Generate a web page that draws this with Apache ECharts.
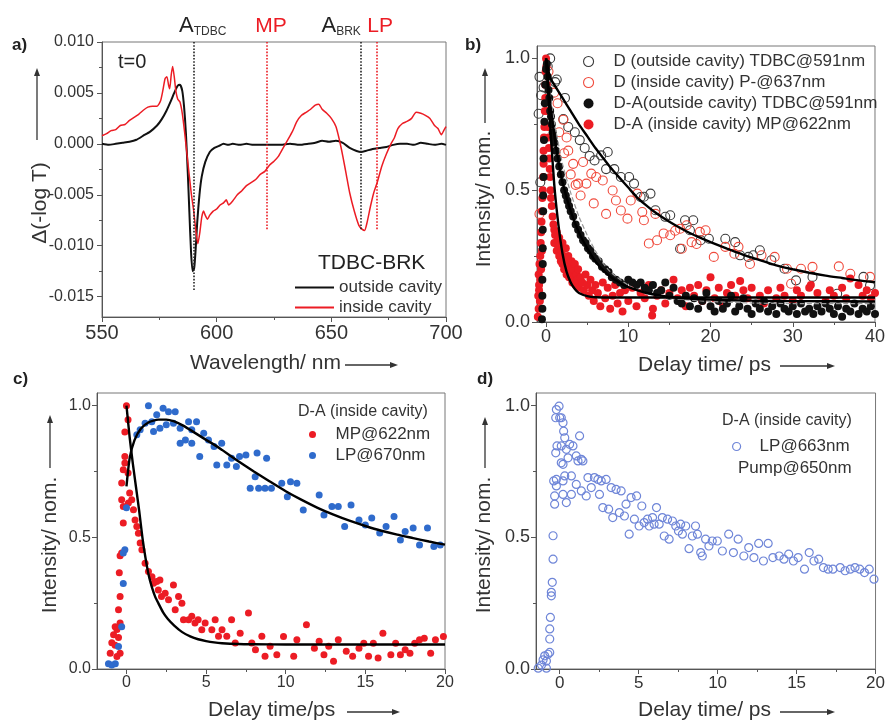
<!DOCTYPE html>
<html><head><meta charset="utf-8">
<script src="https://cdn.jsdelivr.net/npm/echarts@6/dist/echarts.min.js"></script>
<style>html,body{margin:0;padding:0;background:#fff}#c{width:888px;height:720px}</style>
</head><body><div id="c"></div><script>
// ---------- Panel a data: wavelength (nm), Δ(-log T) ----------
const outsideCavity = [[550,0.0000],[553,-0.0001],[556,0.0000],[559,0.0001],[562,0.0002],[565,0.0004],[568,0.0008],[571,0.0012],[574,0.0018],[576,0.0024],[578,0.0032],[580,0.0042],[581.5,0.0050],[583,0.0057],[584,0.0058],[585,0.0052],[585.8,0.0036],[586.6,0.0010],[587.4,-0.0028],[588.1,-0.0067],[588.8,-0.0105],[589.5,-0.0125],[590.2,-0.0122],[590.8,-0.0105],[591.5,-0.0078],[592.5,-0.0050],[593.5,-0.0032],[595,-0.0018],[597,-0.0008],[599,-0.0004],[601,-0.0002],[603,0.0000],[605,-0.0001],[607,0.0000],[610,-0.0001],[613,0.0000],[616,-0.0001],[620,-0.0001],[624,-0.0001],[628,-0.0001],[632,0.0000],[636,-0.0001],[640,0.0000],[643,0.0001],[646,0.0003],[649,0.0002],[652,0.0003],[655,0.0001],[658,-0.0004],[661,-0.0007],[663,-0.0008],[665,-0.0007],[668,-0.0005],[671,-0.0004],[674,-0.0003],[677,-0.0001],[680,0.0000],[683,0.0000],[686,-0.0001],[689,0.0001],[692,0.0000],[695,-0.0001],[698,0.0000],[700,-0.0001]];
const insideCavity = [[550,0.0008],[552,0.0010],[554,0.0013],[556,0.0014],[558,0.0018],[560,0.0019],[562,0.0023],[564,0.0026],[566,0.0029],[568,0.0033],[570,0.0036],[572,0.0037],[574,0.0037],[575.5,0.0042],[576.5,0.0052],[577.5,0.0064],[578.3,0.0066],[579,0.0058],[579.5,0.0054],[580.2,0.0068],[580.8,0.0076],[581.5,0.0066],[582.2,0.0052],[583,0.0044],[584,0.0041],[585,0.0030],[586,0.0012],[587,-0.0009],[588,-0.0030],[589,-0.0050],[590,-0.0066],[591,-0.0087],[591.8,-0.0098],[592.6,-0.0088],[593.5,-0.0072],[594.3,-0.0066],[595,-0.0070],[596,-0.0074],[597,-0.0070],[598.5,-0.0066],[600,-0.0064],[601.5,-0.0060],[603,-0.0058],[604.2,-0.0055],[605.2,-0.0060],[607,-0.0056],[609,-0.0050],[611,-0.0046],[613,-0.0041],[615,-0.0038],[617,-0.0035],[619,-0.0030],[621,-0.0027],[623,-0.0021],[625,-0.0017],[627,-0.0012],[629,-0.0004],[631,0.0004],[633,0.0012],[635,0.0022],[637,0.0028],[639,0.0031],[641,0.0034],[643,0.0038],[644.5,0.0039],[646,0.0034],[648,0.0030],[650,0.0025],[652,0.0017],[653.5,0.0004],[655,-0.0012],[656.5,-0.0030],[658,-0.0048],[660,-0.0066],[662,-0.0080],[663.5,-0.0084],[664.5,-0.0085],[665.5,-0.0078],[667,-0.0062],[668.5,-0.0048],[670,-0.0038],[672,-0.0022],[674,-0.0010],[676,0.0000],[677.5,0.0006],[679,0.0015],[681,0.0020],[683,0.0022],[685,0.0025],[687,0.0031],[689,0.0030],[691,0.0028],[693,0.0025],[695,0.0018],[696.5,0.0015],[698,0.0009],[699,0.0013],[700,0.0017]];
const markerWavelengths = [590, 622, 663, 670];
const markerBottoms = [-0.0145, -0.0084, -0.0085, -0.0085];
const markerLabels = ['{a|A}{s|TDBC}', '{r|MP}', '{a|A}{s|BRK}', '{r|LP}'];
const aXTicks = [550, 600, 650, 700];
const aXMinor = [575, 625, 675];
const aYTicks = [-0.015, -0.010, -0.005, 0, 0.005, 0.010];
const aYMinor = [-0.0125, -0.0075, -0.0025, 0.0025, 0.0075];

// ---------- Panel b data: delay (ps), intensity ----------
const dOutside = [[-0.9,0.79],[-0.8,0.93],[-0.7,0.53],[-0.6,0.86],[-0.3,0.89],[0.2,0.97],[0.5,1.0],[1.1,0.91],[1.3,0.92],[2.1,0.77],[2.3,0.85],[2.7,0.74],[3.5,0.72],[4.1,0.69],[4.7,0.66],[5.3,0.63],[5.9,0.613],[6.7,0.632],[7.3,0.58],[7.5,0.645],[8.3,0.58],[9.1,0.55],[10.1,0.55],[10.7,0.525],[11.5,0.474],[11.9,0.475],[12.7,0.487],[13.3,0.424],[14.5,0.399],[15.1,0.405],[16.3,0.278],[16.9,0.386],[17.5,0.348],[17.9,0.386],[18.8,0.31],[19.8,0.316],[21.8,0.316],[23.0,0.303],[23.6,0.253],[24.6,0.247],[25.2,0.253],[26.0,0.272],[27.4,0.234],[29.0,0.202],[30.4,0.158],[32.4,0.171],[35.4,0.107],[38.6,0.171],[39.4,0.139]];
const dInside = [[-0.8,0.41],[0.3,0.95],[0.98,0.87],[1.4,0.83],[1.6,0.72],[2.1,0.767],[2.2,0.64],[2.5,0.70],[2.7,0.65],[3.0,0.56],[3.3,0.6],[3.6,0.52],[3.9,0.525],[4.2,0.48],[4.5,0.607],[4.9,0.525],[5.5,0.563],[5.8,0.45],[6.1,0.55],[6.9,0.537],[7.3,0.41],[8.1,0.499],[8.5,0.461],[9.1,0.423],[9.9,0.392],[10.3,0.461],[11.1,0.487],[11.7,0.417],[11.9,0.386],[12.5,0.298],[13.3,0.41],[13.5,0.31],[14.3,0.336],[15.1,0.329],[15.7,0.346],[16.3,0.354],[16.5,0.278],[17.1,0.367],[17.7,0.303],[18.3,0.296],[18.7,0.342],[19.4,0.348],[20.4,0.247],[21.8,0.285],[22.9,0.259],[23.4,0.285],[24.8,0.22],[26.2,0.253],[27.8,0.247],[29.3,0.202],[29.8,0.145],[31.0,0.202],[32.4,0.209],[35.6,0.211],[37.0,0.183],[39.4,0.171]];
const daOutside = [[-0.5,0.01],[-0.45,0.05],[-0.45,0.1],[-0.45,0.16],[-0.4,0.22],[-0.4,0.28],[-0.4,0.35],[-0.35,0.42],[-0.35,0.48],[-0.3,0.55],[-0.3,0.62],[-0.25,0.69],[-0.2,0.76],[-0.15,0.83],[-0.1,0.9],[0,0.96],[0.1,0.98],[0.2,0.93],[0.3,0.88],[0.4,0.85],[0.5,0.8],[0.6,0.78],[0.7,0.75],[0.8,0.72],[0.9,0.7],[1.0,0.68],[1.2,0.65],[1.4,0.62],[1.6,0.59],[1.8,0.56],[2.0,0.53],[2.2,0.5],[2.4,0.48],[2.6,0.46],[2.8,0.44],[3.0,0.42],[3.3,0.4],[3.6,0.37],[3.9,0.35],[4.2,0.33],[4.5,0.31],[4.8,0.3],[5.1,0.28],[5.4,0.27],[5.7,0.25],[6.0,0.24],[6.4,0.23],[6.8,0.21],[7.2,0.2],[7.6,0.19],[8.0,0.17],[8.5,0.16],[9.0,0.15],[9.5,0.14],[10,0.16],[10.5,0.15],[11,0.14],[11.5,0.15],[12,0.13],[12.5,0.12],[13,0.14],[13.5,0.11],[14,0.12],[14.5,0.15],[15,0.1],[15.5,0.13],[16,0.08],[16.5,0.07],[17,0.1],[17.5,0.06],[18,0.09],[18.5,0.05],[19,0.08],[19.5,0.11],[20,0.06],[20.5,0.04],[21,0.08],[21.5,0.05],[22,0.07],[22.5,0.1],[23,0.04],[23.5,0.06],[24,0.09],[24.5,0.05],[25,0.03],[25.5,0.07],[26,0.05],[26.5,0.08],[27,0.04],[27.5,0.06],[28,0.03],[28.5,0.07],[29,0.05],[29.5,0.04],[30,0.06],[30.5,0.03],[31,0.07],[31.5,0.04],[32,0.05],[32.5,0.03],[33,0.06],[33.5,0.04],[34,0.07],[34.5,0.05],[35,0.03],[35.5,0.06],[36,0.02],[36.5,0.05],[37,0.04],[37.5,0.07],[38,0.03],[38.5,0.05],[39,0.04],[39.5,0.06],[40,0.03]];
const daInside = [[-1.0,0.02],[-0.9,0.05],[-0.95,0.1],[-0.85,0.14],[-0.9,0.18],[-0.8,0.22],[-0.85,0.12],[-0.75,0.08],[-0.7,0.16],[-0.7,0.25],[-0.65,0.3],[-0.6,0.34],[-0.6,0.2],[-0.55,0.38],[-0.5,0.42],[-0.5,0.27],[-0.45,0.47],[-0.4,0.5],[-0.35,0.55],[-0.3,0.6],[-0.3,0.65],[-0.25,0.7],[-0.2,0.74],[-0.15,0.8],[-0.1,0.85],[-0.1,0.9],[-0.05,0.95],[0,1.0],[0.05,0.97],[0.1,0.9],[0.15,0.85],[0.2,0.8],[0.25,0.74],[0.3,0.7],[0.35,0.66],[0.4,0.62],[0.45,0.58],[0.5,0.55],[0.55,0.5],[0.6,0.47],[0.7,0.44],[0.8,0.4],[0.9,0.37],[1.0,0.35],[1.0,0.3],[1.1,0.33],[1.2,0.3],[1.3,0.34],[1.3,0.27],[1.4,0.31],[1.5,0.28],[1.6,0.25],[1.6,0.32],[1.7,0.29],[1.8,0.23],[1.9,0.27],[2.0,0.3],[2.0,0.22],[2.1,0.25],[2.2,0.2],[2.3,0.24],[2.4,0.28],[2.5,0.18],[2.6,0.22],[2.7,0.25],[2.8,0.17],[2.9,0.21],[3.0,0.19],[3.1,0.23],[3.2,0.15],[3.3,0.2],[3.4,0.17],[3.5,0.22],[3.6,0.14],[3.7,0.18],[3.8,0.16],[3.9,0.2],[4.0,0.13],[4.2,0.17],[4.4,0.15],[4.6,0.12],[4.8,0.18],[5.0,0.14],[5.2,0.1],[5.4,0.16],[5.6,0.12],[5.8,0.08],[6.0,0.14],[6.3,0.11],[6.6,0.06],[6.9,0.15],[7.2,0.09],[7.5,0.13],[7.8,0.05],[8.1,0.1],[8.4,0.14],[8.7,0.07],[9.0,0.11],[9.3,0.04],[9.6,0.12],[10,0.08],[10.5,0.13],[11,0.06],[11.5,0.11],[12,0.09],[12.5,0.14],[12.9,0.025],[13,0.05],[13.5,0.1],[14,0.12],[14.5,0.07],[15,0.11],[15.5,0.16],[16,0.09],[16.5,0.12],[17,0.06],[17.5,0.13],[18,0.1],[18.5,0.14],[19,0.08],[19.5,0.12],[20,0.17],[20.5,0.09],[21,0.13],[21.5,0.07],[22,0.11],[22.5,0.14],[23,0.1],[23.6,0.156],[24,0.12],[24.5,0.09],[25,0.13],[26,0.1],[26.5,0.07],[27,0.12],[28,0.09],[28.5,0.13],[29,0.1],[30,0.08],[30.5,0.12],[31,0.1],[32,0.13],[32.2,0.14],[33,0.11],[34,0.08],[34.5,0.12],[35,0.1],[36,0.13],[36.5,0.09],[37,0.165],[38,0.14],[38.5,0.1],[39,0.12],[39.5,0.09],[40,0.11]];
const dOutFit = [[0,1.0],[0.3,0.95],[0.6,0.92],[1,0.9],[2,0.85],[3,0.8],[4,0.75],[5,0.705],[6,0.66],[7,0.62],[8,0.58],[9,0.545],[10,0.51],[11,0.475],[12,0.447],[13,0.422],[14,0.4],[15,0.38],[16,0.362],[17,0.345],[18,0.33],[19,0.316],[20,0.303],[22,0.278],[24,0.255],[26,0.235],[28,0.215],[30,0.2],[32,0.187],[34,0.176],[36,0.167],[38,0.158],[40,0.151]];
const daOutFit = [[0,1.0],[0.5,0.83],[1,0.71],[1.5,0.61],[2,0.53],[3,0.42],[4,0.34],[5,0.28],[6,0.23],[7,0.195],[8,0.168],[9,0.148],[10,0.132],[12,0.112],[14,0.1],[16,0.092],[20,0.085],[25,0.081],[30,0.079],[40,0.078]];
const daInFit = [[0,1.0],[0.3,0.85],[0.6,0.7],[1.0,0.52],[1.5,0.37],[2.0,0.26],[2.5,0.19],[3.0,0.15],[3.5,0.125],[4.0,0.11],[5.0,0.098],[6,0.094],[10,0.093],[20,0.093],[40,0.093]];
const grayFit = [[0.3,0.9],[1,0.76],[2,0.6],[3,0.49],[4,0.4],[5,0.33],[6,0.27],[7,0.22],[8,0.185],[10,0.14],[12,0.11],[15,0.09],[20,0.078],[25,0.072],[30,0.07],[40,0.07]];
const bXTicks = [0, 10, 20, 30, 40];
const bXMinor = [5, 15, 25, 35];
const yTicks01 = [0, 0.5, 1.0];
const yMinor01 = [0.25, 0.75];

// ---------- Panel c data ----------
const mp622 = [[-1.02,0.06],[-0.92,0.1],[-0.81,0.13],[-0.71,0.16],[-0.6,0.15],[-0.5,0.12],[-0.71,0.09],[-0.4,0.06],[-0.6,0.047],[-0.4,0.175],[-0.5,0.225],[-0.4,0.275],[-0.45,0.365],[-0.4,0.43],[-0.3,0.44],[-0.2,0.554],[-0.2,0.617],[-0.3,0.643],[-0.3,0.706],[-0.2,0.757],[-0.1,0.782],[-0.1,0.807],[-0.1,0.9],[0,1.0],[0.1,0.946],[0.1,0.744],[0.2,0.668],[0.33,0.643],[0.12,0.63],[0.44,0.605],[0.54,0.566],[0.65,0.541],[0.75,0.515],[0.86,0.478],[0.97,0.453],[1.17,0.402],[1.38,0.37],[1.6,0.35],[1.7,0.326],[1.9,0.332],[2.0,0.3],[2.1,0.338],[2.2,0.275],[2.43,0.288],[2.64,0.263],[2.95,0.319],[3.27,0.275],[3.48,0.25],[3.06,0.225],[3.58,0.187],[3.9,0.187],[4.1,0.2],[4.3,0.175],[4.5,0.187],[4.73,0.149],[4.94,0.175],[5.36,0.149],[5.57,0.187],[5.78,0.124],[6.0,0.149],[6.3,0.124],[6.6,0.187],[6.83,0.099],[7.14,0.136],[7.66,0.213],[7.87,0.099],[8.1,0.073],[8.5,0.124],[8.7,0.048],[9.02,0.086],[9.44,0.054],[9.86,0.123],[10.5,0.048],[10.7,0.111],[11.3,0.168],[11.8,0.079],[12.1,0.105],[12.4,0.054],[12.7,0.086],[13.0,0.029],[13.3,0.111],[13.8,0.067],[14.2,0.048],[14.6,0.079],[14.9,0.098],[15.2,0.048],[15.5,0.098],[15.8,0.042],[16.1,0.136],[16.6,0.054],[16.9,0.098],[17.2,0.054],[17.5,0.073],[17.8,0.06],[18.1,0.098],[18.4,0.111],[18.7,0.117],[19.1,0.06],[19.4,0.111],[19.9,0.123]];
const lp670 = [[-1.13,0.02],[-0.92,0.015],[-0.7,0.02],[-0.5,0.085],[-0.3,0.16],[-0.2,0.325],[-0.2,0.44],[-0.1,0.453],[0,0.612],[0.65,0.889],[0.86,0.908],[1.17,0.933],[1.38,1.0],[1.59,0.939],[1.7,0.902],[1.9,0.965],[2.1,0.914],[2.3,0.99],[2.5,0.927],[2.64,0.977],[2.95,0.933],[3.06,0.977],[3.37,0.914],[3.37,0.857],[3.7,0.87],[3.9,0.939],[4.1,0.908],[4.4,0.939],[4.1,0.857],[4.6,0.807],[4.85,0.895],[5.15,0.87],[5.5,0.845],[5.67,0.775],[5.98,0.857],[6.3,0.775],[6.6,0.8],[6.9,0.769],[7.1,0.807],[7.5,0.813],[7.77,0.686],[8.08,0.73],[8.3,0.686],[8.7,0.686],[8.2,0.82],[8.8,0.8],[9.1,0.686],[9.75,0.705],[10.1,0.654],[10.3,0.711],[10.7,0.705],[11.1,0.604],[12.1,0.661],[12.4,0.585],[12.9,0.617],[13.3,0.617],[13.7,0.541],[14.1,0.623],[14.6,0.566],[15.0,0.547],[15.4,0.573],[15.9,0.516],[16.3,0.541],[16.8,0.579],[17.2,0.49],[17.5,0.522],[18.0,0.535],[18.4,0.471],[18.9,0.535],[19.3,0.465],[19.7,0.471]];
const mpFit = [[0,1.0],[0.2,0.88],[0.4,0.78],[0.6,0.69],[0.8,0.6],[1.0,0.5],[1.2,0.42],[1.4,0.355],[1.6,0.31],[1.8,0.275],[2.0,0.25],[2.3,0.215],[2.6,0.19],[3.0,0.165],[3.5,0.14],[4.0,0.124],[4.5,0.113],[5,0.106],[5.5,0.101],[6,0.098],[7,0.095],[8,0.094],[10,0.093],[14,0.093],[20,0.093]];
const lpFit = [[0,0.693],[0.2,0.8],[0.5,0.868],[0.9,0.912],[1.4,0.937],[2.0,0.947],[2.5,0.947],[3.0,0.94],[3.5,0.926],[4.0,0.908],[4.5,0.889],[5.0,0.87],[5.5,0.852],[6,0.832],[7,0.79],[8,0.75],[9,0.712],[10,0.675],[11,0.642],[12,0.612],[13,0.586],[14,0.563],[15,0.543],[16,0.525],[17,0.51],[18,0.497],[19,0.484],[20,0.472]];
const cdXTicks = [0, 5, 10, 15, 20];
const cdXMinor = [2.5, 7.5, 12.5, 17.5];

// ---------- Panel d data ----------
const lp663 = [[-1.36,0.003],[-1.15,0.015],[-1.05,0.035],[-0.95,0.05],[-0.84,0.03],[-0.74,0.056],[-0.84,0.003],[-0.63,0.063],[-0.63,0.114],[-0.63,0.152],[-0.59,0.196],[-0.53,0.278],[-0.53,0.291],[-0.47,0.329],[-0.42,0.417],[-0.42,0.506],[-0.32,0.626],[-0.32,0.657],[-0.38,0.714],[-0.21,0.72],[-0.21,0.695],[-0.25,0.821],[-0.17,0.847],[-0.25,0.954],[-0.21,0.985],[-0.04,0.998],[0,0.954],[0.1,0.954],[0.21,0.935],[0.25,0.903],[0.32,0.878],[0.1,0.847],[0.1,0.783],[0.21,0.777],[0.21,0.714],[0.21,0.663],[0.42,0.632],[0.32,0.733],[0.53,0.802],[0.63,0.853],[0.84,0.847],[0.42,0.834],[1.05,0.809],[1.16,0.79],[1.26,0.885],[1.37,0.796],[1.47,0.79],[0.74,0.733],[1.05,0.701],[0.74,0.663],[1.37,0.676],[1.68,0.657],[1.79,0.727],[2.0,0.689],[2.2,0.727],[2.42,0.72],[2.52,0.663],[2.63,0.714],[2.73,0.613],[2.94,0.72],[3.1,0.607],[3.26,0.689],[3.36,0.575],[3.57,0.682],[3.78,0.594],[3.89,0.676],[4.1,0.581],[4.2,0.626],[4.4,0.512],[4.52,0.651],[4.73,0.569],[4.87,0.657],[5.03,0.543],[5.2,0.619],[5.35,0.556],[5.56,0.569],[5.67,0.543],[5.88,0.575],[5.98,0.55],[6.13,0.613],[6.3,0.55],[6.5,0.575],[6.62,0.505],[6.83,0.569],[6.93,0.493],[7.14,0.562],[7.35,0.543],[7.52,0.524],[7.66,0.55],[7.77,0.512],[7.98,0.543],[8.19,0.457],[8.4,0.505],[8.6,0.543],[8.72,0.512],[8.93,0.442],[9.03,0.429],[9.24,0.493],[9.45,0.467],[9.66,0.486],[9.98,0.486],[10.3,0.448],[10.7,0.512],[11.0,0.442],[11.3,0.493],[11.66,0.429],[11.97,0.461],[12.3,0.423],[12.6,0.477],[12.9,0.41],[13.2,0.477],[13.5,0.423],[13.9,0.429],[14.2,0.417],[14.5,0.436],[14.8,0.41],[15.1,0.423],[15.5,0.379],[15.8,0.442],[16.1,0.41],[16.4,0.417],[16.7,0.385],[17.0,0.379],[17.3,0.379],[17.76,0.385],[18.07,0.373],[18.4,0.379],[18.7,0.385],[19.0,0.379],[19.3,0.366],[19.6,0.379],[19.9,0.341]];

// ---------- Build ----------
const FONT = '"Liberation Sans", Arial, sans-serif';
const AX = '#555';
const RED = '#ec1c24';
function axisPair(kind, g, min, max, major, minor, fmt, fs, margin) {
  const pos = kind === 'x' ? 'bottom' : 'left';
  return [
    {type:'value', gridIndex:g, min:min, max:max, position:pos,
     axisLine:{show:true, onZero:false, lineStyle:{color:AX, width:1}},
     axisTick:{show:true, customValues:major, length:5, lineStyle:{color:AX, width:1}},
     axisLabel:{show:true, customValues:major, formatter:fmt, fontSize:fs, color:'#333', fontFamily:FONT, margin:margin},
     splitLine:{show:false}},
    {type:'value', gridIndex:g, min:min, max:max, position:pos,
     axisLine:{show:false, onZero:false},
     axisTick:{show:true, customValues:minor, length:3, lineStyle:{color:AX, width:1}},
     axisLabel:{show:false}, splitLine:{show:false}}
  ];
}
const f1 = v => v.toFixed(1);
const f0 = v => String(v);
const f3 = v => v.toFixed(3);
const xAxis = [].concat(
  axisPair('x', 0, 550, 700, aXTicks, aXMinor, f0, 20, 6),
  axisPair('x', 1, -1.1, 40, bXTicks, bXMinor, f0, 18, 6),
  axisPair('x', 2, -1.85, 20, cdXTicks, cdXMinor, f0, 16, 6),
  axisPair('x', 3, -1.5, 20, cdXTicks, cdXMinor, f0, 17, 6)
);
const yAxis = [].concat(
  axisPair('y', 0, -0.017, 0.010, aYTicks, aYMinor, f3, 16, 8),
  axisPair('y', 1, 0, 1.047, yTicks01, yMinor01, f1, 18, 7),
  axisPair('y', 2, 0, 1.048, yTicks01, yMinor01, f1, 16, 6),
  axisPair('y', 3, 0, 1.048, yTicks01, yMinor01, f1, 18, 6)
);
const gridStyle = {show:true, borderColor:'#777', borderWidth:1, backgroundColor:'transparent'};
const grid = [
  Object.assign({left:102, top:42, width:344, height:275}, gridStyle),
  Object.assign({left:537, top:46, width:341, height:276}, gridStyle),
  Object.assign({left:97, top:393, width:348, height:276}, gridStyle),
  Object.assign({left:536, top:393, width:342, height:276}, gridStyle)
];
const markerColors = ['#222', RED, '#222', RED];
const markerOffsets = [9, 4, -20, 3];
const markLineData = markerWavelengths.map((w, i) => [
  {coord:[w, 0.010], lineStyle:{color:markerColors[i], type:'dotted', width:1.6},
   label:{show:true, position:'start', distance:4, offset:[markerOffsets[i],0], formatter:markerLabels[i],
     rich:{a:{fontSize:22, color:'#222', fontFamily:FONT, lineHeight:24},
           s:{fontSize:12, color:'#333', fontFamily:FONT, lineHeight:12, verticalAlign:'bottom'},
           r:{fontSize:21, color:RED, fontFamily:FONT, lineHeight:24}}}},
  {coord:[w, markerBottoms[i]]}
]);
function ax(i){ return {xAxisIndex:2*i, yAxisIndex:2*i}; }
function lineS(name, data, i, color, width, extra){
  return Object.assign({type:'line', name:name, data:data, showSymbol:false, symbol:'none', smooth:0.2,
    lineStyle:{color:color, width:width}, itemStyle:{color:color}, z:4, silent:true}, ax(i), extra||{});
}
function scat(name, data, i, size, fill, stroke, bw){
  return Object.assign({type:'scatter', name:name, data:data, symbol:'circle', symbolSize:size,
    itemStyle:{color:fill, borderColor:stroke, borderWidth:bw, opacity:1}, silent:true}, ax(i));
}
const series = [
  lineS('outside cavity', outsideCavity, 0, '#111', 2, {markLine:{silent:true, symbol:['none','none'], animation:false, data:markLineData}}),
  lineS('inside cavity', insideCavity, 0, RED, 1.5),
  scat('D (outside cavity) TDBC@591nm', dOutside, 1, 9, 'transparent', '#3a3a3a', 1.1),
  scat('D (inside cavity) P-@637nm', dInside, 1, 9, 'transparent', '#f04a3c', 1.1),
  scat('D-A (inside cavity) MP@622nm', daInside, 1, 8, RED, RED, 0),
  scat('D-A(outside cavity) TDBC@591nm', daOutside, 1, 8, '#111', '#111', 0),
  lineS('fitGray', grayFit, 1, '#999', 1.2, {lineStyle:{color:'#999', width:1.2, type:'dashed'}}),
  lineS('fitDOut', dOutFit, 1, '#000', 2.4),
  lineS('fitDAOut', daOutFit, 1, '#000', 2.4),
  lineS('fitDAIn', daInFit, 1, '#000', 2.4),
  scat('MP@622nm', mp622, 2, 7, RED, RED, 0),
  scat('LP@670nm', lp670, 2, 7, '#2f6bcc', '#2f6bcc', 0),
  lineS('fitMP', mpFit, 2, '#000', 2.4),
  lineS('fitLP', lpFit, 2, '#000', 2.4),
  scat('LP@663nm', lp663, 3, 8, 'transparent', '#6f86d8', 1.2)
];
const legTxt = {fontSize:17, color:'#333', fontFamily:FONT, lineHeight:16};
const openItem = {borderWidth:1.1};
const legend = [
  {data:[{name:'outside cavity', icon:'rect'},{name:'inside cavity', icon:'rect'}], orient:'vertical', left:290, top:274, itemWidth:39, itemHeight:2, itemGap:3, selectedMode:false, textStyle:Object.assign({}, legTxt, {lineHeight:15})},
  {data:[{name:'D (outside cavity) TDBC@591nm', itemStyle:openItem},{name:'D (inside cavity) P-@637nm', itemStyle:openItem},'D-A(outside cavity) TDBC@591nm','D-A (inside cavity) MP@622nm'], orient:'vertical', left:578, top:48, itemWidth:40, itemHeight:10, itemGap:4, selectedMode:false, textStyle:legTxt},
  {data:['MP@622nm','LP@670nm'], orient:'vertical', left:304, top:421, itemWidth:36, itemHeight:7, itemGap:4, selectedMode:false, textStyle:legTxt},
  {data:[{name:'LP@663nm', itemStyle:{borderWidth:1.2}}], orient:'vertical', left:727, top:433, itemWidth:36, itemHeight:8, itemGap:5, selectedMode:false, textStyle:legTxt}
];
function T(x, y, text, fs, opts){
  opts = opts || {};
  return {type:'text', x:x, y:y, rotation:opts.rot||0, silent:true,
    style:{text:text, fontSize:fs, fontFamily:FONT, fontWeight:opts.bold?'bold':'normal', fill:opts.color||'#333',
      align:opts.align||'left', verticalAlign:'middle'}};
}
function arrowUp(x, y1, y2){
  return [{type:'line', silent:true, shape:{x1:x, y1:y1, x2:x, y2:y2+6}, style:{stroke:'#333', lineWidth:1.3}},
          {type:'polygon', silent:true, shape:{points:[[x,y2],[x-3,y2+8],[x+3,y2+8]]}, style:{fill:'#333'}}];
}
function arrowRight(x1, x2, y){
  return [{type:'line', silent:true, shape:{x1:x1, y1:y, x2:x2-6, y2:y}, style:{stroke:'#333', lineWidth:1.3}},
          {type:'polygon', silent:true, shape:{points:[[x2,y],[x2-8,y-3],[x2-8,y+3]]}, style:{fill:'#333'}}];
}
const R = Math.PI/2;
const graphic = [].concat(
  [T(12,45,'a)',17,{bold:true,color:'#222'}), T(465,45,'b)',17,{bold:true,color:'#222'}),
   T(13,379,'c)',17,{bold:true,color:'#222'}), T(477,379,'d)',17,{bold:true,color:'#222'}),
   T(118,62,'t=0',20,{color:'#222'}), T(318,263,'TDBC-BRK',21,{color:'#222'}),
   T(298,412,'D-A (inside cavity)',16), T(722,421,'D-A (inside cavity)',16), T(738,468,'Pump@650nm',17),
   T(40,203,'Δ(-log T)',21,{rot:R,align:'center'}),
   T(484,199,'Intensity/ nom.',21,{rot:R,align:'center'}),
   T(50,545,'Intensity/ nom.',21,{rot:R,align:'center'}),
   T(484,545,'Intensity/ nom.',21,{rot:R,align:'center'}),
   T(190,363,'Wavelength/ nm',21), T(638,365,'Delay time/ ps',21),
   T(208,710,'Delay time/ps',21), T(638,710,'Delay time/ ps',21)],
  arrowUp(37,140,68), arrowUp(485,123,68), arrowUp(50,468,415), arrowUp(485,468,417),
  arrowRight(345,398,365), arrowRight(780,835,366), arrowRight(347,400,712), arrowRight(780,835,712)
);
const chart = echarts.init(document.getElementById('c'), null, {renderer:'canvas', width:888, height:720});
chart.setOption({animation:false, backgroundColor:'#fff', grid:grid, xAxis:xAxis, yAxis:yAxis, legend:legend, series:series, graphic:graphic});
</script></body></html>
